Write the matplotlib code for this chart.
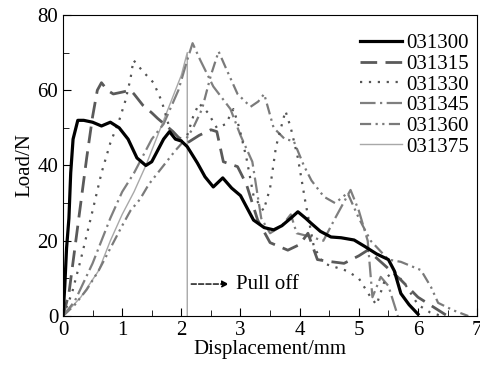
import matplotlib
matplotlib.use("Agg")
import matplotlib.pyplot as plt

plt.rcParams['font.family'] = ['Liberation Serif', 'DejaVu Serif']

# 031300 - black solid
x_300 = [0, 0.03, 0.06, 0.1, 0.13, 0.17, 0.25, 0.35, 0.5, 0.65, 0.8, 0.95, 1.1, 1.25, 1.4,
         1.5, 1.6, 1.7, 1.8, 1.9, 2.0, 2.1, 2.27, 2.4, 2.54, 2.7, 2.85, 3.0, 3.22, 3.4,
         3.56, 3.7, 3.85, 3.97, 4.1, 4.19, 4.35, 4.53, 4.7, 4.92, 5.1, 5.3, 5.5, 5.6,
         5.71, 5.85, 6.0]
y_300 = [0, 8, 18, 26, 38, 47, 52, 52, 51.5, 50.5, 51.5, 50, 47, 42, 40, 41, 44, 47, 49,
         47, 46.5, 45, 40.7, 37, 34.3, 36.7, 34, 32, 25.5, 23.5, 22.9, 24, 26, 27.7, 26,
         24.7, 22.5, 21, 20.8, 20.2, 18.5, 16.5, 15, 12, 6, 3, 0.5]

# 031315 - dashed
x_315 = [0, 0.1, 0.2, 0.3, 0.4, 0.5, 0.58, 0.65, 0.75, 0.85, 1.0, 1.14, 1.2, 1.35, 1.5,
         1.6, 1.75, 1.86, 1.95, 2.1, 2.3, 2.5, 2.6, 2.71, 2.95, 3.1, 3.29, 3.5, 3.8, 4.0,
         4.14, 4.3, 4.5, 4.75, 5.0, 5.15, 5.4, 5.71, 6.0, 6.3, 6.5]
y_315 = [0, 6, 18, 30, 42, 53, 60, 62, 60, 59, 59.5, 60, 59, 56, 54, 52.5, 50.5, 49,
         47.5, 46, 48, 49.5, 49, 41, 39.7, 35, 25.5, 19.5, 17.5, 19, 22, 15, 14.5, 14,
         16, 17.5, 14, 9.6, 5, 2, 0]

# 031330 - dotted
x_330 = [0, 0.15, 0.3, 0.5, 0.65, 0.8, 0.95, 1.05, 1.14, 1.19, 1.35, 1.53, 1.67, 1.8,
         1.95, 2.1, 2.2, 2.3, 2.45, 2.6, 2.75, 2.88, 2.98, 3.1, 3.22, 3.39, 3.5, 3.6,
         3.76, 3.85, 3.97, 4.1, 4.24, 4.4, 4.6, 4.8, 5.0, 5.2, 5.3, 5.45, 5.6, 5.8, 6.0,
         6.2, 6.4]
y_330 = [0, 6, 15, 28, 38, 46, 52, 57, 63, 68, 65, 62, 57, 50, 46, 48, 53, 56.5, 54,
         50, 51, 55, 50, 42, 32, 28, 34, 45, 54.5, 50, 42, 30, 18.4, 14, 13, 12, 10, 5,
         3, 10, 12, 8, 3, 1, 0]

# 031345 - dash dot
x_345 = [0, 0.2, 0.5, 0.8, 1.0, 1.2, 1.5, 1.7, 1.95, 2.1, 2.19, 2.32, 2.54, 2.83, 3.0,
         3.2, 3.35, 3.5, 3.7, 3.85, 3.95, 4.2, 4.4, 4.6, 4.86, 5.0, 5.15, 5.23, 5.37,
         5.5, 5.6, 5.66]
y_345 = [0, 4, 14, 26, 33, 38, 47, 51, 60, 68, 72.5, 68, 61, 55, 48, 41, 26, 22, 24,
         27, 22, 21, 20, 26, 33.5, 28, 20, 5, 10.4, 8, 3, 0]

# 031360 - dash dot dot
x_360 = [0, 0.2, 0.4, 0.6, 0.8, 1.0, 1.14, 1.3, 1.45, 1.6, 1.75, 1.9, 2.1, 2.2, 2.35,
         2.5, 2.63, 2.75, 2.95, 3.17, 3.3, 3.4, 3.56, 3.75, 3.9, 4.07, 4.2, 4.41, 4.6,
         4.81, 5.0, 5.2, 5.5, 5.71, 6.05, 6.22, 6.34, 6.6, 6.85]
y_360 = [0, 3, 7, 12, 18, 24, 28, 31, 35, 38, 41, 44, 47.5, 50, 55, 64, 70.3, 66,
         59, 55.6, 57, 59, 50, 47, 46.5, 40, 36, 31.7, 30, 32.7, 26, 20, 15, 14.4, 12.2,
         7.7, 3.5, 1.5, 0]

# 031375 - thin solid, pulled off at 2.1 mm
x_375 = [0, 0.3, 0.6, 0.8, 1.0, 1.2, 1.4, 1.6, 1.8, 2.0, 2.1, 2.1]
y_375 = [0, 5, 12, 20, 27, 33, 40, 48, 56, 64, 70, 0]

fig = plt.figure(figsize=(4.81, 3.74), dpi=100)
ax = fig.add_axes([0.131, 0.155, 0.861, 0.805])

ax.plot(x_375, y_375, color='#a8a8a8', lw=1.0, label='031375', zorder=1)
ax.plot(x_360, y_360, color='#7a7a7a', lw=1.6, ls=(0, (5, 2, 1, 2, 1, 2)), label='031360')
ax.plot(x_345, y_345, color='#7f7f7f', lw=1.6, ls=(0, (7, 2, 1, 2)), label='031345')
ax.plot(x_330, y_330, color='#555555', lw=1.6, ls=(0, (1, 3)), label='031330')
ax.plot(x_315, y_315, color='#5a5a5a', lw=2.0, ls=(0, (6, 3)), label='031315')
ax.plot(x_300, y_300, color='black', lw=2.3, label='031300')

# pull off marker
ax.annotate('', xy=(2.85, 8.5), xytext=(2.12, 8.5),
            arrowprops=dict(arrowstyle='-|>', ls='--', color='black', lw=1.0))
ax.text(2.92, 8.5, 'Pull off', fontsize=15, va='center')

ax.set_xlim(0, 7)
ax.set_ylim(0, 80)
ax.set_xticks(range(0, 8))
ax.set_xticks([i * 0.5 for i in range(15)], minor=True)
ax.set_yticks(range(0, 81, 20))
ax.set_yticks(range(0, 81, 10), minor=True)
ax.tick_params(which='both', direction='in', labelsize=15)
ax.tick_params(which='major', length=6)
ax.tick_params(which='minor', length=4)
ax.set_xlabel('Displacement/mm', fontsize=15, labelpad=0)
ax.set_ylabel('Load/N', fontsize=15, labelpad=2)

handles, labels = ax.get_legend_handles_labels()
ax.legend(handles[::-1], labels[::-1], loc='upper right', frameon=False, fontsize=15,
          handlelength=2.0, labelspacing=0.05, handletextpad=0.2,
          borderaxespad=0.0, bbox_to_anchor=(1.0, 0.965))

fig.savefig('out.png', dpi=100)
